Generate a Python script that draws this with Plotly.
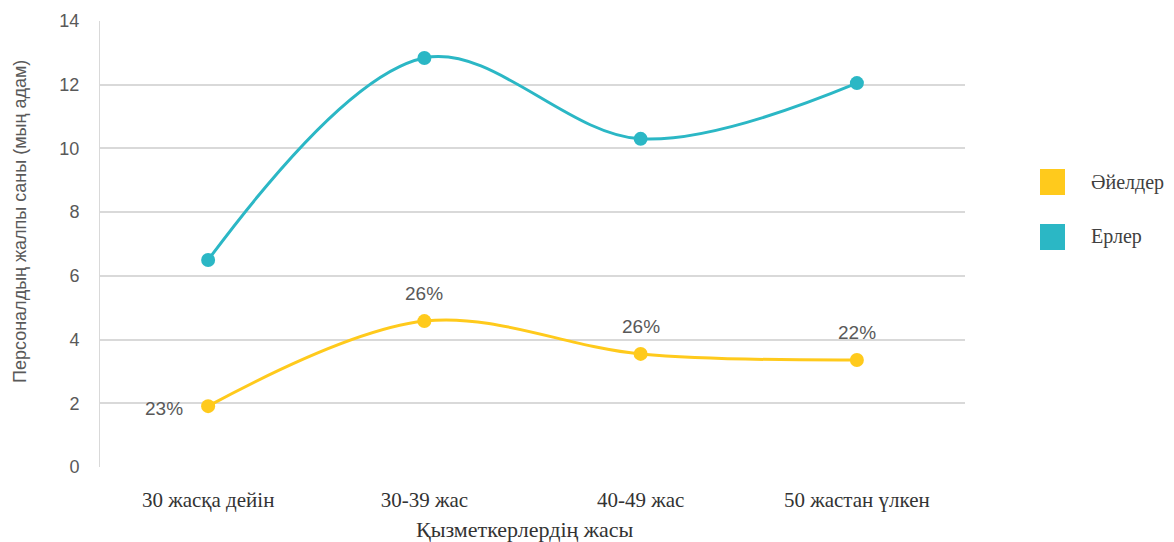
import plotly.graph_objects as go

categories = ["30 жасқа дейін", "30-39 жас", "40-49 жас", "50 жастан үлкен"]
women = [1.91, 4.58, 3.55, 3.36]
men = [6.5, 12.84, 10.3, 12.05]
women_labels = ["23%", "26%", "26%", "22%"]
series_names = ["Әйелдер", "Ерлер"]
colors = ["#FFCA1C", "#2BB7C5"]
x_title = "Қызметкерлердің жасы"
y_title = "Персоналдың жалпы саны (мың адам)"

W, H = 1174, 542
ML, MR, MT, MB = 100, 209, 21, 75
PW, PH = W - ML - MR, H - MT - MB

def px_x(p):
    return (p - ML) / PW

def px_y(p):
    return (H - MB - p) / PH

fig = go.Figure()
for name, vals, col in [(series_names[1], men, colors[1]), (series_names[0], women, colors[0])]:
    fig.add_trace(go.Scatter(
        x=categories, y=vals, mode="lines+markers", name=name,
        line=dict(color=col, width=3, shape="spline", smoothing=1.0),
        marker=dict(color=col, size=14), showlegend=False, hoverinfo="x+y"))

label_font = dict(family="Liberation Sans, Arial", size=19, color="#595959")
for i, (c, v, t) in enumerate(zip(categories, women, women_labels)):
    if i == 0:
        fig.add_annotation(x=c, y=v, text=t, showarrow=False, xanchor="right",
                           xshift=-23, yshift=-2, font=label_font)
    else:
        fig.add_annotation(x=c, y=v, text=t, showarrow=False, yanchor="bottom",
                           yshift=15, font=label_font)

# legend (manual, large square swatches)
legend_font = dict(family="Liberation Serif, Times New Roman", size=20, color="#404040")
for i, (name, col) in enumerate(zip(series_names, colors)):
    top = 169 + i * 55
    fig.add_shape(type="rect", xref="paper", yref="paper",
                  x0=px_x(1040), x1=px_x(1065), y0=px_y(top + 26), y1=px_y(top),
                  fillcolor=col, line=dict(width=0))
    fig.add_annotation(xref="paper", yref="paper", x=px_x(1089), y=px_y(top + 13),
                       text=name, showarrow=False, xanchor="left", yanchor="middle",
                       font=legend_font)

# axis titles
fig.add_annotation(xref="paper", yref="paper", x=px_x(525), y=px_y(529),
                   text=x_title, showarrow=False, xanchor="center", yanchor="middle",
                   font=dict(family="Liberation Serif, Times New Roman", size=22, color="#333333"))
fig.add_annotation(xref="paper", yref="paper", x=px_x(20), y=px_y(222),
                   text=y_title, showarrow=False, textangle=-90,
                   xanchor="center", yanchor="middle",
                   font=dict(family="Liberation Sans, Arial", size=18, color="#595959"))

fig.update_layout(
    width=W, height=H,
    margin=dict(l=ML, r=MR, t=MT, b=MB),
    plot_bgcolor="white", paper_bgcolor="white",
    showlegend=False,
    xaxis=dict(
        range=[-0.5, 3.5], showgrid=False, showline=False, zeroline=False,
        ticks="", ticklabelstandoff=18,
        tickfont=dict(family="Liberation Serif, Times New Roman", size=21, color="#333333"),
    ),
    yaxis=dict(
        range=[0, 14], dtick=2, showgrid=True, gridcolor="#D9D9D9", gridwidth=2,
        showline=True, linecolor="#D9D9D9", linewidth=1, zeroline=False,
        ticks="", ticklabelstandoff=16,
        tickfont=dict(family="Liberation Sans, Arial", size=18, color="#595959"),
    ),
)

fig.write_html("out.html")
